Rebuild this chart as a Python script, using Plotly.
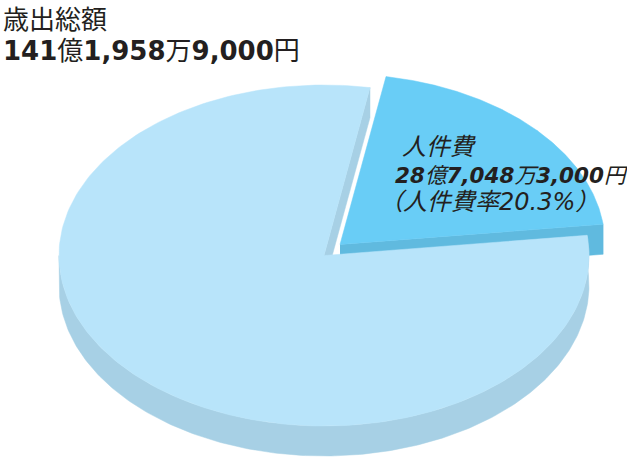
import numpy as np
import plotly.graph_objects as go

# Data (yen)
total_amount = 14119589000
personnel_amount = 2870483000
title_lines = ["歳出総額", "<b>141</b>億<b>1,958</b>万<b>9,000</b>円"]
label_lines = ["<i>人件費</i>",
               "<i><b>28</b>億<b>7,048</b>万<b>3,000</b>円</i>",
               "<i>（人件費率20.3%）</i>"]

# Pie geometry (pixel-based axes)
W, H = 627, 460
CX, CY, RX, RY, DEPTH = 324, 255.5, 265, 170.5, 30
DX, DY = 16, -11
START = 10.0
share = personnel_amount / total_amount
sweep = share * 360
END = START + sweep

TOP_MAIN, WALL_MAIN = "#b8e4fa", "#a7d0e5"
TOP_CUT, WALL_CUT = "#69cdf6", "#60badf"
INK = "#231f20"


def rim(a0, a1, cx=CX, cy=CY, n=240):
    """Points on the ellipse; angle is clockwise from 12 o'clock."""
    t = np.radians(np.linspace(a0, a1, n))
    return cx + RX * np.sin(t), cy - RY * np.cos(t)


def poly(fig, x, y, color):
    fig.add_trace(go.Scatter(x=list(x), y=list(y), mode="lines", fill="toself",
                             fillcolor=color, line=dict(color=color, width=0.5),
                             hoverinfo="skip", showlegend=False))


fig = go.Figure()

# Exploded slice: cut face then top
ex_cx, ex_cy = CX + DX, CY + DY
xe, ye = rim(END, END, ex_cx, ex_cy, 1)
poly(fig, [ex_cx, xe[0], xe[0], ex_cx], [ex_cy, ye[0], ye[0] + DEPTH, ex_cy + DEPTH], WALL_CUT)
x, y = rim(START, END, ex_cx, ex_cy)
poly(fig, np.r_[ex_cx, x, ex_cx], np.r_[ex_cy, y, ex_cy], TOP_CUT)

# Main slice: cut wall at the start edge
xs, ys = rim(START, START, n=1)
poly(fig, [CX, xs[0], xs[0], CX], [CY, ys[0], ys[0] + DEPTH, CY + DEPTH], WALL_MAIN)

# Main slice: outer wall
x, y = rim(END, 270)
poly(fig, np.r_[x, x[::-1]], np.r_[y, y[::-1] + DEPTH], WALL_MAIN)

# Main slice: top
x, y = rim(END, 360 + START)
poly(fig, np.r_[CX, x, CX], np.r_[CY, y, CY], TOP_MAIN)

FONT = "DejaVu Sans, Noto Sans CJK JP, sans-serif"


def text(s, px, py, size):
    fig.add_annotation(x=px, y=py, text=s, showarrow=False, xanchor="left", yanchor="middle",
                       align="left", font=dict(family=FONT, size=size, color=INK))


text(title_lines[0], 1, 20, 26)
text(title_lines[1], 1, 51, 26)
text(label_lines[0], 400, 147, 24)
text(label_lines[1], 393, 175, 21.5)
text(label_lines[2], 377, 202, 24)

fig.update_layout(
    width=W, height=H, margin=dict(l=0, r=0, t=0, b=0),
    paper_bgcolor="white", plot_bgcolor="white", showlegend=False,
    xaxis=dict(range=[0, W], visible=False, fixedrange=True),
    yaxis=dict(range=[H, 0], visible=False, fixedrange=True),
)
fig.write_html("out.html", config=dict(displayModeBar=False),
               post_script="document.body.style.margin='0';document.documentElement.style.overflow='hidden';")
